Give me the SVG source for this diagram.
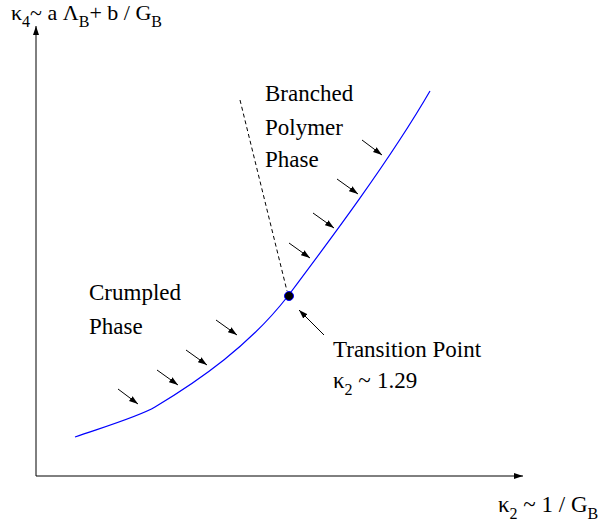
<svg xmlns="http://www.w3.org/2000/svg" width="603" height="523" viewBox="0 0 603 523">
<defs>
<marker id="ah" markerWidth="10" markerHeight="8" refX="9" refY="4" orient="auto" markerUnits="userSpaceOnUse">
<path d="M0,1 L9,4 L0,7 Z" fill="#000"/>
</marker>
</defs>
<style>
text{font-family:"Liberation Serif","Times New Roman",serif;font-size:23px;fill:#000}
.sub{font-size:16px}
.ar{stroke:#000;stroke-width:1;fill:none;marker-end:url(#ah)}
</style>
<rect width="603" height="523" fill="#fff"/>
<g id="connectors">
<line class="ar" x1="36" y1="476" x2="36" y2="26"/>
<line class="ar" x1="36" y1="476" x2="523" y2="476"/>
<path d="M75,437 C110,425 140,416 155,407 C200,380 250,345 288,296 C330,240 390,160 430,91" fill="none" stroke="#0000ff" stroke-width="1.2"/>
<line x1="240" y1="100" x2="287" y2="291" stroke="#000" stroke-width="1" stroke-dasharray="4,3"/>
<line class="ar" x1="118" y1="389" x2="138" y2="404"/>
<line class="ar" x1="157" y1="370" x2="178" y2="385"/>
<line class="ar" x1="186" y1="350" x2="207" y2="365"/>
<line class="ar" x1="216" y1="320" x2="237" y2="335"/>
<line class="ar" x1="289" y1="243" x2="310" y2="258"/>
<line class="ar" x1="313" y1="213" x2="334" y2="228"/>
<line class="ar" x1="337" y1="179" x2="358" y2="194"/>
<line class="ar" x1="362" y1="140" x2="382" y2="155"/>
<line class="ar" x1="324" y1="335" x2="299" y2="310"/>
</g>
<g id="transition-point">
<circle cx="289" cy="296" r="4.5" fill="#000" stroke="#0000ff" stroke-width="1"/>
</g>
<g id="y-label">
<text x="11" y="20" style="font-size:22px">κ<tspan class="sub" dy="7">4</tspan><tspan dy="-7">~ a Λ</tspan><tspan class="sub" dy="7">B</tspan><tspan dy="-7">+ b / G</tspan><tspan class="sub" dy="7">B</tspan></text>
</g>
<g id="x-label">
<text x="498" y="512">κ<tspan class="sub" dy="7">2</tspan><tspan dy="-7"> ~ 1 / G</tspan><tspan class="sub" dy="7">B</tspan></text>
</g>
<g id="crumpled-phase">
<text x="89" y="300">Crumpled</text>
<text x="89" y="334">Phase</text>
</g>
<g id="branched-polymer-phase">
<text x="265" y="101">Branched</text>
<text x="265" y="135">Polymer</text>
<text x="265" y="167">Phase</text>
</g>
<g id="transition-label">
<text x="333" y="357">Transition Point</text>
<text x="333" y="388">κ<tspan class="sub" dy="7">2</tspan><tspan dy="-7"> ~  </tspan><tspan x="377">1.29</tspan></text>
</g>
</svg>
